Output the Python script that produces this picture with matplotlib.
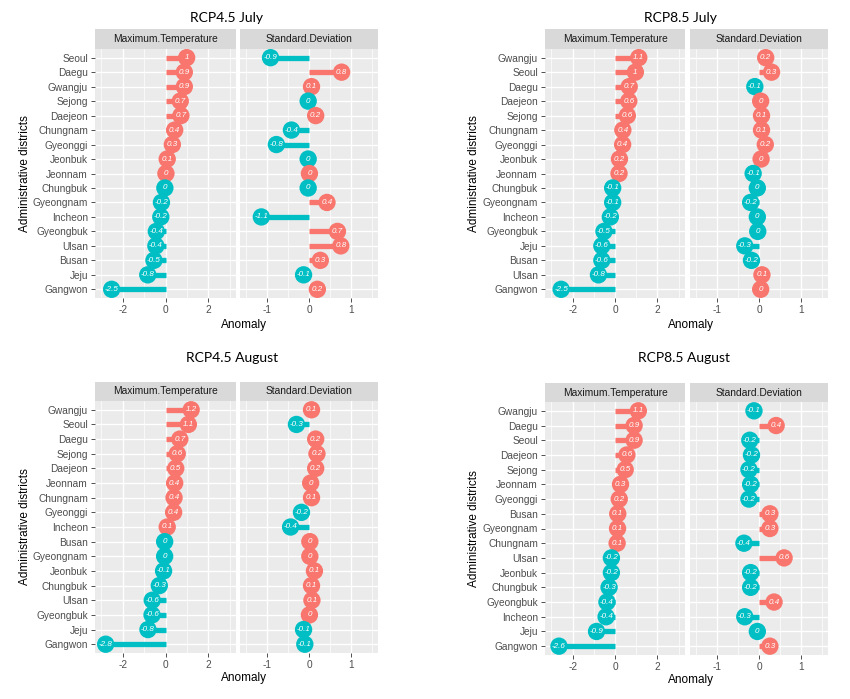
import numpy as np
import matplotlib.pyplot as plt

RED = "#F8766D"
TEAL = "#00BFC4"

# RCP4.5 July (top to bottom)
jul45_names = ["Seoul", "Daegu", "Gwangju", "Sejong", "Daejeon", "Chungnam", "Gyeonggi",
               "Jeonbuk", "Jeonnam", "Chungbuk", "Gyeongnam", "Incheon", "Gyeongbuk",
               "Ulsan", "Busan", "Jeju", "Gangwon"]
jul45_tmax = [0.99, 0.88, 0.88, 0.69, 0.72, 0.43, 0.32, 0.08, 0.02, -0.03, -0.19, -0.22,
              -0.43, -0.45, -0.54, -0.83, -2.52]
jul45_sd = [-0.92, 0.78, 0.06, -0.02, 0.16, -0.42, -0.78, -0.02, 0.01, -0.02, 0.43, -1.14,
            0.68, 0.76, 0.27, -0.13, 0.2]

# RCP8.5 July
jul85_names = ["Gwangju", "Seoul", "Daegu", "Daejeon", "Sejong", "Chungnam", "Gyeonggi",
               "Jeonbuk", "Jeonnam", "Chungbuk", "Gyeongnam", "Incheon", "Gyeongbuk",
               "Jeju", "Busan", "Ulsan", "Gangwon"]
jul85_tmax = [1.12, 0.96, 0.67, 0.65, 0.58, 0.37, 0.36, 0.21, 0.19, -0.11, -0.11, -0.22,
              -0.52, -0.62, -0.62, -0.78, -2.54]
jul85_sd = [0.16, 0.3, -0.1, 0.04, 0.06, 0.06, 0.15, 0.05, -0.14, -0.04, -0.2, -0.04,
            -0.03, -0.34, -0.18, 0.07, 0.04]

# RCP4.5 August
aug45_names = ["Gwangju", "Seoul", "Daegu", "Sejong", "Daejeon", "Jeonnam", "Chungnam",
               "Gyeonggi", "Incheon", "Busan", "Gyeongnam", "Jeonbuk", "Chungbuk",
               "Ulsan", "Gyeongbuk", "Jeju", "Gangwon"]
aug45_tmax = [1.2, 1.07, 0.67, 0.55, 0.48, 0.43, 0.4, 0.38, 0.08, -0.04, -0.04, -0.09,
              -0.29, -0.62, -0.63, -0.82, -2.8]
aug45_sd = [0.06, -0.3, 0.16, 0.19, 0.16, 0.04, 0.06, -0.18, -0.44, 0.02, 0.02, 0.13,
            0.06, 0.07, 0.01, -0.13, -0.1]

# RCP8.5 August
aug85_names = ["Gwangju", "Daegu", "Seoul", "Daejeon", "Sejong", "Jeonnam", "Gyeonggi",
               "Busan", "Gyeongnam", "Chungnam", "Ulsan", "Jeonbuk", "Chungbuk",
               "Gyeongbuk", "Incheon", "Jeju", "Gangwon"]
aug85_tmax = [1.1, 0.9, 0.9, 0.56, 0.48, 0.26, 0.2, 0.13, 0.12, 0.1, -0.17, -0.17,
              -0.28, -0.38, -0.42, -0.87, -2.64]
aug85_sd = [-0.12, 0.41, -0.22, -0.18, -0.24, -0.2, -0.24, 0.26, 0.26, -0.36, 0.6, -0.2,
            -0.2, 0.36, -0.34, -0.04, 0.26]

plt.rcParams["font.family"] = ["Liberation Sans", "DejaVu Sans"]

W, H = 850, 699
fig = plt.figure(figsize=(8.5, 6.99), dpi=100)


def box(x0, y0, x1, y1):
    return [x0 / W, 1 - y1 / H, (x1 - x0) / W, (y1 - y0) / H]


def fmt(v):
    return f"{round(v, 1) + 0.0:g}"


def draw_facet(x0, x1, ytop, ystrip, ybot, names, values, lim, major, minor, label, show_y):
    # strip on top of the facet
    sax = fig.add_axes(box(x0, ytop, x1, ystrip))
    sax.set_facecolor("#D9D9D9")
    sax.set_xticks([])
    sax.set_yticks([])
    for s in sax.spines.values():
        s.set_visible(False)
    sax.text(0.5, 0.5, label, ha="center", va="center", fontsize=7.4, color="#1A1A1A")

    ax = fig.add_axes(box(x0, ystrip, x1, ybot))
    ax.set_facecolor("#EBEBEB")
    for s in ax.spines.values():
        s.set_visible(False)
    n = len(names)
    y = np.arange(n)[::-1]
    v = np.array(values)
    cols = [RED if val > 0 else TEAL for val in v]

    for m in minor:
        ax.axvline(m, color="white", lw=0.5, zorder=0)
    for m in major:
        ax.axvline(m, color="white", lw=1.0, zorder=0)
    for yy in y:
        ax.axhline(yy, color="white", lw=1.0, zorder=0)

    ax.hlines(y, 0, v, colors=cols, lw=3.8, capstyle="butt", zorder=2)
    ax.scatter(v, y, s=12.5 ** 2, c=cols, linewidths=0, zorder=3)
    for val, yy in zip(v, y):
        ax.text(val, yy, fmt(val), ha="center", va="center", color="white",
                fontsize=5.8, style="italic", zorder=4)

    ax.set_xlim(-lim, lim)
    ax.set_ylim(-0.6, n - 0.4)
    ax.set_xticks(major)
    ax.set_xticklabels([f"{m:g}" for m in major])
    ax.tick_params(axis="both", color="#333333", labelcolor="#4D4D4D", labelsize=7.3,
                   length=3, width=0.6, pad=2)
    if show_y:
        ax.set_yticks(y)
        ax.set_yticklabels(names)
    else:
        ax.set_yticks([])
    return ax


panels = [
    ("RCP4.5 July", jul45_names, jul45_tmax, jul45_sd, 95, 236, 240, 378, 29, 49, 298, 227, 18, 25, 244, 325),
    ("RCP8.5 July", jul85_names, jul85_tmax, jul85_sd, 545, 685, 690, 828, 29, 49, 298, 680, 18, 474, 691, 325),
    ("RCP4.5 August", aug45_names, aug45_tmax, aug45_sd, 95, 236, 240, 378, 382, 401, 653, 232, 358, 25, 244, 678),
    ("RCP8.5 August", aug85_names, aug85_tmax, aug85_sd, 545, 685, 690, 828, 383, 402, 655, 684, 358, 474, 691, 680),
]

for (title, names, tmax, sd, ax0, ax1, bx0, bx1, yt, ys, yb, tx, ty, ylx, alx, aly) in panels:
    draw_facet(ax0, ax1, yt, ys, yb, names, tmax, 3.3, [-2, 0, 2], [-3, -1, 1, 3],
               "Maximum.Temperature", True)
    draw_facet(bx0, bx1, yt, ys, yb, names, sd, 1.65, [-1, 0, 1], [-1.5, -0.5, 0.5, 1.5],
               "Standard.Deviation", False)
    fig.text(tx / W, 1 - ty / H, title, ha="center", va="center", fontsize=10,
             family=["Lato", "DejaVu Sans"])
    fig.text(ylx / W, 1 - ((ys + yb) / 2) / H, "Administrative districts", rotation=90,
             ha="center", va="center", fontsize=8.5)
    fig.text(alx / W, 1 - aly / H, "Anomaly", ha="center", va="center", fontsize=8.5)

fig.savefig("out.png", dpi=100)
